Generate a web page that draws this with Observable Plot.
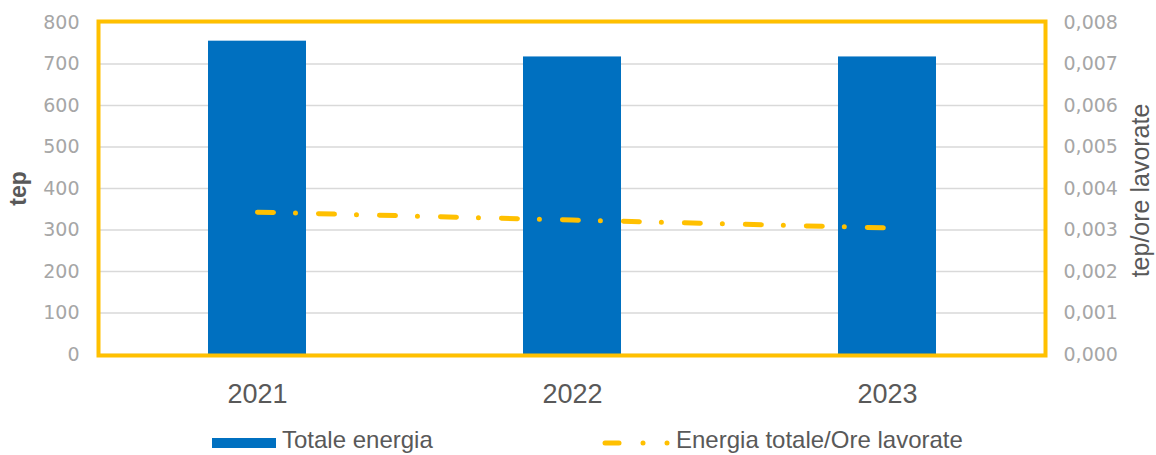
<!DOCTYPE html>
<html><head><meta charset="utf-8">
<script src="https://cdn.jsdelivr.net/npm/d3@7"></script>
<script src="https://cdn.jsdelivr.net/npm/@observablehq/plot@0.6"></script>
<style>
body{margin:0;background:#fff;}
#legend{position:relative;height:35px;width:1156px;font-family:"Liberation Sans",Arial,sans-serif;font-size:24px;color:#595959;}
#legend span{position:absolute;top:8px;line-height:24px;white-space:nowrap;}
#legend svg{position:absolute;top:0;}
</style></head><body>
<div id="chart"></div>
<div id="legend"></div>
<script>
const years = ["2021", "2022", "2023"];
const totaleEnergia = [755, 717, 717];
const energiaOreLavorate = [0.00343, 0.00324, 0.00305];
const leftTicks = [0, 100, 200, 300, 400, 500, 600, 700, 800];
const rightTicks = [0, 0.001, 0.002, 0.003, 0.004, 0.005, 0.006, 0.007, 0.008];
const seriesNames = ["Totale energia", "Energia totale/Ore lavorate"];
const axisTitles = ["tep", "tep/ore lavorate"];

const ratio = 800 / 0.008;
const bars = years.map((y, i) => ({year: y, value: totaleEnergia[i]}));
const line = years.map((y, i) => ({year: y, value: energiaOreLavorate[i] * ratio}));

const chart = Plot.plot({
  width: 1156,
  height: 420,
  marginLeft: 99,
  marginRight: 112,
  marginTop: 22,
  marginBottom: 66,
  style: {fontFamily: "'Liberation Sans', Arial, sans-serif", background: "#fff"},
  x: {domain: years, paddingInner: 0.69, paddingOuter: 0.345, align: 0.5, axis: null},
  y: {domain: [0, 800], axis: null},
  marks: [
    Plot.gridY(leftTicks, {stroke: "#d9d9d9", strokeOpacity: 1, strokeWidth: 1.5}),
    Plot.barY(bars, {x: "year", y: "value", fill: "#0070C0"}),
    Plot.line(line, {x: "year", y: "value", stroke: "#FFC000", strokeWidth: 5,
      strokeDasharray: "16,22,0,23", strokeLinecap: "round"}),
    Plot.frame({stroke: "#FFC000", strokeWidth: 4, inset: -1}),
    Plot.axisY(leftTicks, {anchor: "left", tickSize: 0, tickPadding: 20, label: null,
      color: "#a6a6a6", fontSize: 19, fontFamily: "DejaVu Sans"}),
    Plot.axisY(rightTicks.map(v => v * ratio), {anchor: "right", tickSize: 0, tickPadding: 19, label: null,
      color: "#a6a6a6", fontSize: 19, fontFamily: "DejaVu Sans",
      tickFormat: d => (d / ratio).toFixed(3).replace(".", ",")}),
    Plot.axisX({tickSize: 0, tickPadding: 29, label: null, color: "#595959", fontSize: 27}),
    Plot.text([axisTitles[0]], {frameAnchor: "left", dx: -81, rotate: -90, text: d => d,
      textAnchor: "middle", fontWeight: "bold", fontSize: 23, fill: "#595959"}),
    Plot.text([axisTitles[1]], {frameAnchor: "right", dx: 96, dy: 2, rotate: -90, text: d => d,
      textAnchor: "middle", fontSize: 25, fill: "#595959"})
  ]
});
document.getElementById("chart").appendChild(chart);

const legend = document.getElementById("legend");
legend.innerHTML = `
<svg width="70" height="35" style="left:210px"><rect x="2" y="18" width="64" height="10" fill="#0070C0"></rect></svg>
<span style="left:282px">${seriesNames[0]}</span>
<svg width="80" height="35" style="left:598px">
  <line x1="7" y1="23" x2="21" y2="23" stroke="#FFC000" stroke-width="5" stroke-linecap="round"></line>
  <circle cx="45" cy="23" r="2.5" fill="#FFC000"></circle>
  <circle cx="69" cy="23" r="2.5" fill="#FFC000"></circle>
</svg>
<span style="left:676px">${seriesNames[1]}</span>`;
</script>
</body></html>
